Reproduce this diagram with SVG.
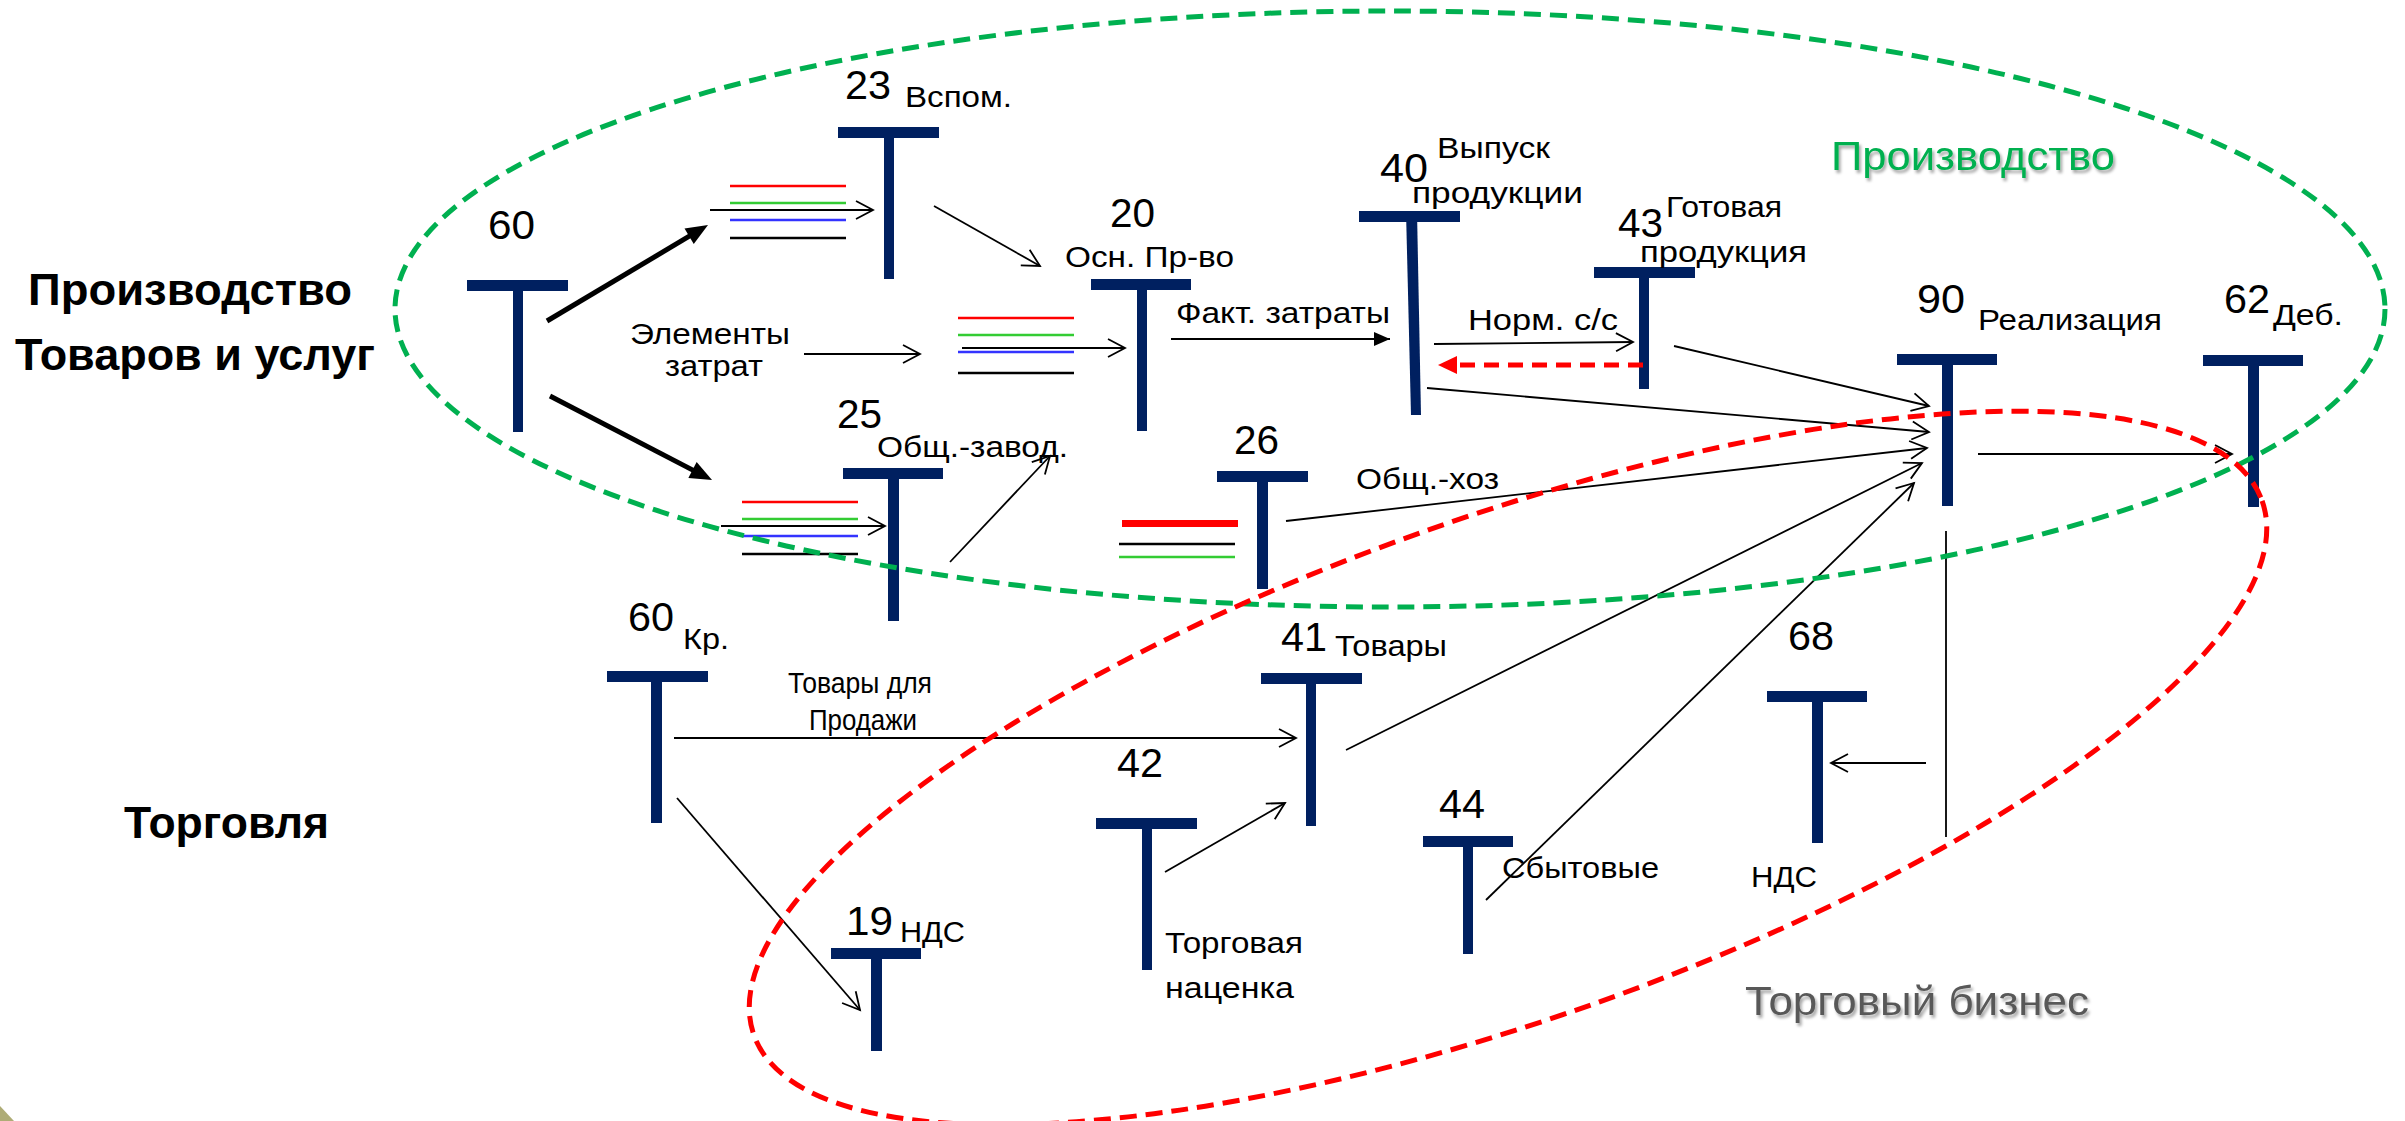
<svg xmlns="http://www.w3.org/2000/svg" width="2405" height="1121" viewBox="0 0 2405 1121">
<style>
.bar{fill:#002060}
.num{font-family:"Liberation Sans",Arial,sans-serif;font-size:40px;fill:#000}
.lbl{font-family:"Liberation Sans",Arial,sans-serif;font-size:30px;fill:#000}
.big{font-family:"Liberation Sans",Arial,sans-serif;font-size:44px;font-weight:bold;fill:#000}
.cn{stroke:#000;stroke-width:1.8;fill:none}
.arr{marker-end:url(#open)}
.cl{stroke-width:2.6;fill:none}
.reg{fill:none;stroke-width:5;stroke-dasharray:17 9}
</style>
<defs>
<marker id="open" markerUnits="userSpaceOnUse" markerWidth="24" markerHeight="24" refX="18" refY="10" orient="auto" overflow="visible"><path d="M1,1 L18,10 L1,19" fill="none" stroke="#000" stroke-width="1.8"/></marker>
<marker id="bold" markerUnits="userSpaceOnUse" markerWidth="26" markerHeight="22" refX="8" refY="9" orient="auto" overflow="visible"><path d="M0,0 L22,9 L0,18 Z" fill="#000"/></marker>
<marker id="fill" markerUnits="userSpaceOnUse" markerWidth="20" markerHeight="16" refX="16" refY="7" orient="auto" overflow="visible"><path d="M0,0 L16,7 L0,14 Z" fill="#000"/></marker>
<marker id="redfill" markerUnits="userSpaceOnUse" markerWidth="22" markerHeight="20" refX="7" refY="9" orient="auto" overflow="visible"><path d="M0,0 L19,9 L0,18 Z" fill="#FF0000"/></marker>
<filter id="sh" x="-5%" y="-30%" width="115%" height="170%"><feDropShadow dx="2" dy="3" stdDeviation="1.5" flood-color="#000" flood-opacity="0.35"/></filter>
</defs>
<rect width="2405" height="1121" fill="#fff"/>
<polygon points="0,1106 14,1121 0,1121" fill="#AEAC76"/>

<g id="labels">
<text class="big" x="28" y="305" textLength="324" lengthAdjust="spacingAndGlyphs">Производство</text>
<text class="big" x="15" y="370" textLength="360" lengthAdjust="spacingAndGlyphs">Товаров и услуг</text>
<text class="big" x="124" y="838" textLength="205" lengthAdjust="spacingAndGlyphs">Торговля</text>
<text x="1831" y="170" textLength="284" lengthAdjust="spacingAndGlyphs" font-family="Liberation Sans, Arial, sans-serif" font-size="40" fill="#00B050" filter="url(#sh)">Производство</text>
<text x="1745" y="1015" textLength="344" lengthAdjust="spacingAndGlyphs" font-family="Liberation Sans, Arial, sans-serif" font-size="41" fill="#595959" filter="url(#sh)">Торговый бизнес</text>
<text class="lbl" x="630" y="344" textLength="160" lengthAdjust="spacingAndGlyphs">Элементы</text>
<text class="lbl" x="665" y="376" textLength="98" lengthAdjust="spacingAndGlyphs">затрат</text>
<text class="lbl" x="1176" y="323" textLength="214" lengthAdjust="spacingAndGlyphs">Факт. затраты</text>
<text class="lbl" x="1468" y="330" textLength="150" lengthAdjust="spacingAndGlyphs">Норм. с/с</text>
<text class="lbl" x="1356" y="489" textLength="143" lengthAdjust="spacingAndGlyphs">Общ.-хоз</text>
<text class="lbl" x="788" y="693" font-size="28" textLength="144" lengthAdjust="spacingAndGlyphs">Товары для</text>
<text class="lbl" x="809" y="730" font-size="28" textLength="108" lengthAdjust="spacingAndGlyphs">Продажи</text>
</g>

<g id="lines-23">
<line class="cl" x1="730" y1="186" x2="846" y2="186" stroke="#FF0000"/>
<line class="cl" x1="730" y1="203" x2="846" y2="203" stroke="#33CC33"/>
<line class="cl" x1="730" y1="220" x2="846" y2="220" stroke="#3333FF"/>
<line class="cl" x1="730" y1="238" x2="846" y2="238" stroke="#000"/>
</g>
<g id="lines-20">
<line class="cl" x1="958" y1="318" x2="1074" y2="318" stroke="#FF0000"/>
<line class="cl" x1="958" y1="335" x2="1074" y2="335" stroke="#33CC33"/>
<line class="cl" x1="958" y1="352" x2="1074" y2="352" stroke="#3333FF"/>
<line class="cl" x1="958" y1="373" x2="1074" y2="373" stroke="#000"/>
</g>
<g id="lines-25">
<line class="cl" x1="742" y1="502" x2="858" y2="502" stroke="#FF0000"/>
<line class="cl" x1="742" y1="519" x2="858" y2="519" stroke="#33CC33"/>
<line class="cl" x1="742" y1="536" x2="858" y2="536" stroke="#3333FF"/>
<line class="cl" x1="742" y1="554" x2="858" y2="554" stroke="#000"/>
</g>
<g id="lines-26">
<line x1="1122" y1="523.5" x2="1238" y2="523.5" stroke="#FF0000" stroke-width="7"/>
<line class="cl" x1="1119" y1="544" x2="1235" y2="544" stroke="#000"/>
<line class="cl" x1="1119" y1="557" x2="1235" y2="557" stroke="#33CC33"/>
</g>

<g id="n60">
<rect class="bar" x="467" y="280" width="101" height="11"/><rect class="bar" x="513" y="280" width="10" height="152"/>
<text class="num" x="488" y="239" textLength="47" lengthAdjust="spacingAndGlyphs">60</text>
</g>
<g id="n23">
<rect class="bar" x="838" y="127" width="101" height="11"/><rect class="bar" x="884" y="127" width="10" height="152"/>
<text class="num" x="845" y="99" textLength="46" lengthAdjust="spacingAndGlyphs">23</text>
<text class="lbl" x="905" y="107" textLength="107" lengthAdjust="spacingAndGlyphs">Вспом.</text>
</g>
<g id="n20">
<rect class="bar" x="1091" y="279" width="100" height="11"/><rect class="bar" x="1137" y="279" width="10" height="152"/>
<text class="num" x="1110" y="227" textLength="45" lengthAdjust="spacingAndGlyphs">20</text>
<text class="lbl" x="1065" y="267" textLength="169" lengthAdjust="spacingAndGlyphs">Осн. Пр-во</text>
</g>
<g id="n40">
<rect class="bar" x="1359" y="211" width="101" height="11"/><polygon class="bar" points="1406,211 1417,211 1421,415 1411,415"/>
<text class="num" x="1380" y="182" textLength="48" lengthAdjust="spacingAndGlyphs">40</text>
<text class="lbl" x="1437" y="158" textLength="113" lengthAdjust="spacingAndGlyphs">Выпуск</text>
<text class="lbl" x="1412" y="203" textLength="171" lengthAdjust="spacingAndGlyphs">продукции</text>
</g>
<g id="n43">
<rect class="bar" x="1594" y="267" width="101" height="11"/><rect class="bar" x="1639" y="267" width="10" height="122"/>
<text class="num" x="1618" y="237" textLength="45" lengthAdjust="spacingAndGlyphs">43</text>
<text class="lbl" x="1666" y="217" textLength="116" lengthAdjust="spacingAndGlyphs">Готовая</text>
<text class="lbl" x="1640" y="262" textLength="167" lengthAdjust="spacingAndGlyphs">продукция</text>
</g>
<g id="n90">
<rect class="bar" x="1897" y="354" width="100" height="11"/><rect class="bar" x="1942" y="354" width="11" height="152"/>
<text class="num" x="1917" y="313" textLength="48" lengthAdjust="spacingAndGlyphs">90</text>
<text class="lbl" x="1978" y="330" textLength="184" lengthAdjust="spacingAndGlyphs">Реализация</text>
</g>
<g id="n62">
<rect class="bar" x="2203" y="355" width="100" height="11"/><rect class="bar" x="2248" y="355" width="11" height="152"/>
<text class="num" x="2224" y="313" textLength="46" lengthAdjust="spacingAndGlyphs">62</text>
<text class="lbl" x="2273" y="325" textLength="70" lengthAdjust="spacingAndGlyphs">Деб.</text>
</g>
<g id="n25">
<rect class="bar" x="843" y="468" width="100" height="11"/><rect class="bar" x="888" y="468" width="11" height="153"/>
<text class="num" x="837" y="428" textLength="45" lengthAdjust="spacingAndGlyphs">25</text>
<text class="lbl" x="877" y="457" textLength="191" lengthAdjust="spacingAndGlyphs">Общ.-завод.</text>
</g>
<g id="n26">
<rect class="bar" x="1217" y="471" width="91" height="11"/><rect class="bar" x="1257" y="471" width="11" height="118"/>
<text class="num" x="1234" y="454" textLength="45" lengthAdjust="spacingAndGlyphs">26</text>
</g>
<g id="n60kr">
<rect class="bar" x="607" y="671" width="101" height="11"/><rect class="bar" x="651" y="671" width="11" height="152"/>
<text class="num" x="628" y="631" textLength="46" lengthAdjust="spacingAndGlyphs">60</text>
<text class="lbl" x="683" y="649" textLength="46" lengthAdjust="spacingAndGlyphs">Кр.</text>
</g>
<g id="n19">
<rect class="bar" x="831" y="948" width="90" height="11"/><rect class="bar" x="871" y="948" width="11" height="103"/>
<text class="num" x="846" y="935" textLength="47" lengthAdjust="spacingAndGlyphs">19</text>
<text class="lbl" x="900" y="942" textLength="65" lengthAdjust="spacingAndGlyphs">НДС</text>
</g>
<g id="n41">
<rect class="bar" x="1261" y="673" width="101" height="11"/><rect class="bar" x="1306" y="673" width="10" height="153"/>
<text class="num" x="1281" y="651" textLength="46" lengthAdjust="spacingAndGlyphs">41</text>
<text class="lbl" x="1335" y="656" textLength="112" lengthAdjust="spacingAndGlyphs">Товары</text>
</g>
<g id="n42">
<rect class="bar" x="1096" y="818" width="101" height="11"/><rect class="bar" x="1142" y="818" width="10" height="152"/>
<text class="num" x="1117" y="777" textLength="46" lengthAdjust="spacingAndGlyphs">42</text>
<text class="lbl" x="1165" y="953" textLength="138" lengthAdjust="spacingAndGlyphs">Торговая</text>
<text class="lbl" x="1165" y="998" textLength="129" lengthAdjust="spacingAndGlyphs">наценка</text>
</g>
<g id="n44">
<rect class="bar" x="1423" y="836" width="90" height="11"/><rect class="bar" x="1463" y="836" width="10" height="118"/>
<text class="num" x="1439" y="818" textLength="46" lengthAdjust="spacingAndGlyphs">44</text>
<text class="lbl" x="1502" y="878" textLength="157" lengthAdjust="spacingAndGlyphs">Сбытовые</text>
</g>
<g id="n68">
<rect class="bar" x="1767" y="691" width="100" height="11"/><rect class="bar" x="1812" y="691" width="11" height="152"/>
<text class="num" x="1788" y="650" textLength="46" lengthAdjust="spacingAndGlyphs">68</text>
<text class="lbl" x="1751" y="887" textLength="66" lengthAdjust="spacingAndGlyphs">НДС</text>
</g>

<g id="connectors">
<line x1="547" y1="321" x2="696" y2="232.2" stroke="#000" stroke-width="5" marker-end="url(#bold)"/>
<line x1="550" y1="396" x2="699.6" y2="473.6" stroke="#000" stroke-width="5" marker-end="url(#bold)"/>
<line class="cn arr" x1="710" y1="210" x2="873" y2="210"/>
<line class="cn arr" x1="934" y1="206" x2="1040" y2="266"/>
<line class="cn arr" x1="804" y1="354" x2="920" y2="354"/>
<line class="cn arr" x1="962" y1="348" x2="1125" y2="348"/>
<line class="cn" x1="1171" y1="339" x2="1390" y2="339" marker-end="url(#fill)"/>
<line class="cn arr" x1="1434" y1="344" x2="1633" y2="342"/>
<line x1="1643" y1="365" x2="1450" y2="365" stroke="#FF0000" stroke-width="5" stroke-dasharray="15 9" marker-end="url(#redfill)"/>
<line class="cn arr" x1="1427" y1="388" x2="1929" y2="432"/>
<line class="cn arr" x1="1674" y1="346" x2="1929" y2="406"/>
<line class="cn arr" x1="1286" y1="521" x2="1927" y2="448"/>
<line class="cn arr" x1="1346" y1="750" x2="1922" y2="463"/>
<line class="cn arr" x1="1486" y1="900" x2="1914" y2="483"/>
<line class="cn arr" x1="1978" y1="454" x2="2232" y2="454"/>
<line class="cn" x1="1946" y1="531" x2="1946" y2="837"/>
<line class="cn arr" x1="1926" y1="763" x2="1831" y2="763"/>
<line class="cn arr" x1="721" y1="526" x2="885" y2="526"/>
<line class="cn arr" x1="950" y1="562" x2="1050" y2="456"/>
<line class="cn arr" x1="674" y1="738" x2="1296" y2="738"/>
<line class="cn arr" x1="677" y1="798" x2="860" y2="1010"/>
<line class="cn arr" x1="1165" y1="872" x2="1285" y2="803"/>
</g>

<g id="regions">
<ellipse class="reg" cx="1390" cy="309" rx="995" ry="298" stroke="#00B050"/>
<ellipse class="reg" cx="1508" cy="768" rx="800" ry="251" transform="rotate(-19.5 1508 768)" stroke="#FF0000"/>
</g>
</svg>
